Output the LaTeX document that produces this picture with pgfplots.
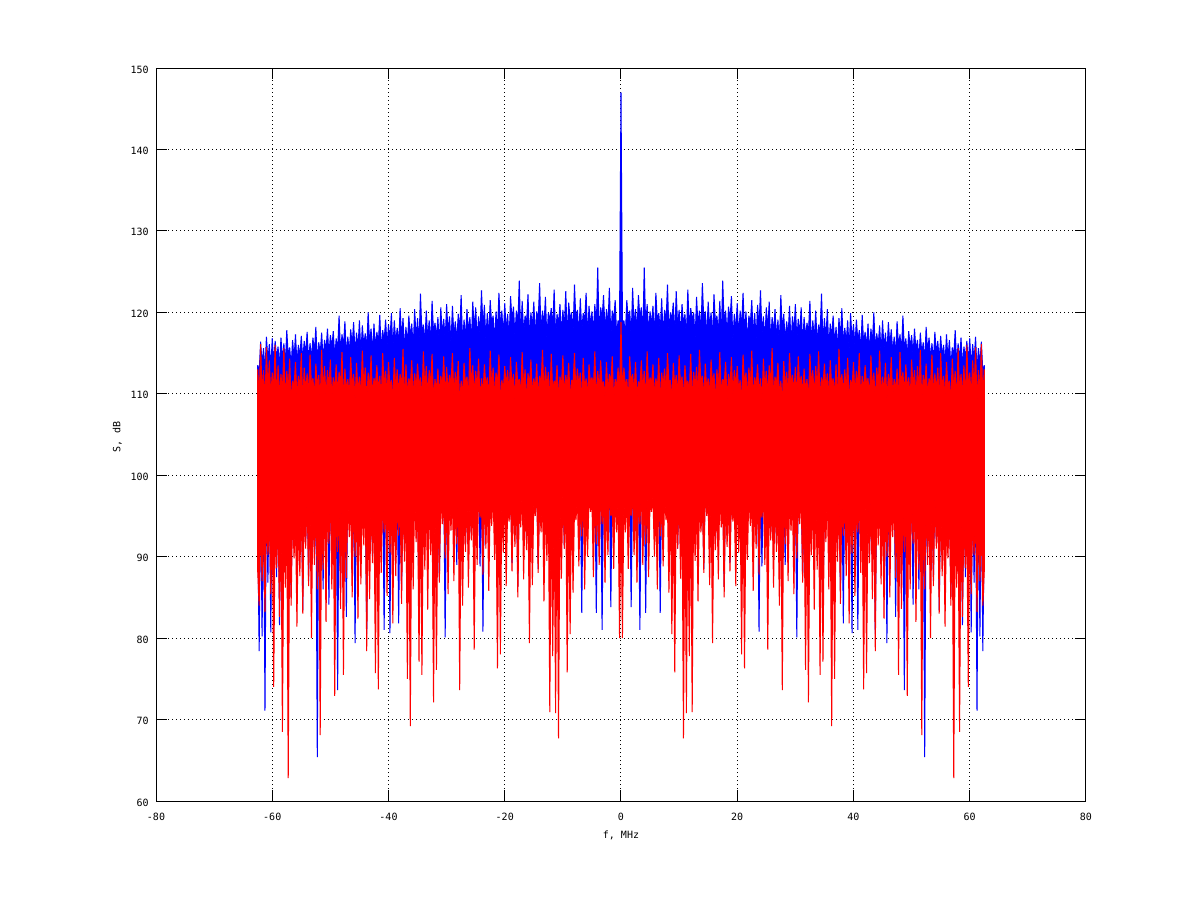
\documentclass[border=0pt]{standalone}
\usepackage{pgfplots}
\usepackage{pgfplotstable}
\pgfplotsset{compat=1.18}
\usepgfplotslibrary{fillbetween}
\usepackage{fontspec}
\setmonofont{DejaVu Sans Mono}
\pgfplotstableread[row sep=\\]{
x up lo\\
-62.5 113.5 93.7\\ -62.25 112.6 78.4\\ -62 116.4 100\\ -61.75 113.6 80.2\\ -61.5 115.6 100\\ -61.25 112.8 71.1\\ -61 117.0 100\\ -60.75 114.0 86.8\\ -60.5 116.1 100\\ -60.25 113.1 80.7\\
-60 116.8 100\\ -59.75 113.7 92.2\\ -59.5 116.5 100\\ -59.25 114.3 87.5\\ -59 115.8 100\\ -58.75 113.2 81.6\\ -58.5 116.9 100\\ -58.25 114.0 90.6\\ -58 116.2 100\\ -57.75 113.5 88.0\\ -57.5 117.8 100\\ -57.25 114.6 100\\ -57 115.7 100\\ -56.75 113.3 85.1\\ -56.5 116.6 100\\ -56.25 114.2 92.4\\ -56 117.3 100\\ -55.75 113.6 89.0\\ -55.5 116.0 100\\ -55.25 114.5 100\\
-55 117.1 100\\ -54.75 114.0 83.4\\ -54.5 116.5 100\\ -54.25 114.8 91.8\\ -54 117.6 100\\ -53.75 113.9 87.0\\ -53.5 116.2 100\\ -53.25 114.3 100\\ -53 116.9 100\\ -52.75 115.0 90.6\\ -52.5 118.2 100\\ -52.25 113.8 65.4\\ -52 116.3 100\\ -51.75 114.9 100\\ -51.5 117.5 100\\ -51.25 114.1 86.0\\ -51 116.6 100\\ -50.75 115.2 92.0\\ -50.5 118.0 100\\ -50.25 114.6 84.1\\
-50 117.2 100\\ -49.75 115.6 90.4\\ -49.5 117.7 100\\ -49.25 114.4 100\\ -49 116.8 100\\ -48.75 115.3 73.6\\ -48.5 119.6 100\\ -48.25 114.9 86.0\\ -48 117.3 100\\ -47.75 115.7 91.2\\ -47.5 118.9 100\\ -47.25 114.5 82.6\\ -47 117.0 100\\ -46.75 115.0 100\\ -46.5 117.9 100\\ -46.25 115.9 88.0\\ -46 118.8 100\\ -45.75 114.7 79.4\\ -45.5 117.5 100\\ -45.25 115.5 100\\
-45 119.0 100\\ -44.75 114.8 89.6\\ -44.5 118.4 100\\ -44.25 115.9 100\\ -44 117.4 100\\ -43.75 115.3 80.5\\ -43.5 120.0 100\\ -43.25 116.2 92.8\\ -43 118.0 100\\ -42.75 114.9 90.0\\ -42.5 118.6 100\\ -42.25 115.6 100\\ -42 117.6 100\\ -41.75 116.1 100\\ -41.5 119.7 100\\ -41.25 115.2 91.4\\ -41 117.8 100\\ -40.75 116.4 81.0\\ -40.5 119.1 100\\ -40.25 115.8 100\\
-40 118.5 100\\ -39.75 116.5 80.6\\ -39.5 119.9 100\\ -39.25 115.3 92.0\\ -39 119.0 100\\ -38.75 116.3 100\\ -38.5 118.1 100\\ -38.25 115.9 81.8\\ -38 120.5 100\\ -37.75 116.8 85.9\\ -37.5 119.3 100\\ -37.25 115.4 91.0\\ -37 118.2 100\\ -36.75 116.0 100\\ -36.5 119.6 100\\ -36.25 116.9 100\\ -36 118.6 100\\ -35.75 115.5 92.6\\ -35.5 120.4 100\\ -35.25 116.6 100\\
-35 119.3 100\\ -34.75 116.0 82.8\\ -34.5 122.3 100\\ -34.25 117.3 100\\ -34 118.5 100\\ -33.75 116.1 100\\ -33.5 120.2 100\\ -33.25 116.7 90.5\\ -33 119.0 100\\ -32.75 115.9 91.8\\ -32.5 121.4 100\\ -32.25 117.5 100\\ -32 118.7 100\\ -31.75 116.9 100\\ -31.5 119.4 100\\ -31.25 115.8 87.0\\ -31 120.6 100\\ -30.75 117.2 100\\ -30.5 119.2 100\\ -30.25 116.5 80.1\\
-30 121.0 100\\ -29.75 117.4 92.4\\ -29.5 119.5 100\\ -29.25 116.0 100\\ -29 120.8 100\\ -28.75 117.1 100\\ -28.5 118.9 100\\ -28.25 116.3 89.0\\ -28 119.8 100\\ -27.75 117.6 100\\ -27.5 122.1 100\\ -27.25 115.9 100\\ -27 119.1 100\\ -26.75 116.8 91.5\\ -26.5 120.4 100\\ -26.25 117.5 100\\ -26 119.4 100\\ -25.75 116.2 92.8\\ -25.5 121.3 100\\ -25.25 117.8 100\\
-25 120.6 100\\ -24.75 116.5 100\\ -24.5 119.5 100\\ -24.25 117.2 88.8\\ -24 122.7 100\\ -23.75 118.1 80.8\\ -23.5 120.9 100\\ -23.25 116.6 100\\ -23 119.9 100\\ -22.75 117.0 92.2\\ -22.5 121.5 100\\ -22.25 118.5 100\\ -22 119.6 100\\ -21.75 116.3 100\\ -21.5 120.1 100\\ -21.25 117.4 90.0\\ -21 122.4 100\\ -20.75 118.2 100\\ -20.5 120.2 100\\ -20.25 116.9 93.0\\
-20 121.1 100\\ -19.75 117.7 100\\ -19.5 119.8 100\\ -19.25 116.4 100\\ -19 122.0 100\\ -18.75 118.9 89.2\\ -18.5 120.7 100\\ -18.25 117.0 100\\ -18 120.2 100\\ -17.75 118.4 86.3\\ -17.5 123.9 100\\ -17.25 116.8 100\\ -17 121.4 100\\ -16.75 117.3 100\\ -16.5 119.6 100\\ -16.25 118.6 92.0\\ -16 122.2 100\\ -15.75 116.6 100\\ -15.5 120.0 100\\ -15.25 118.0 100\\
-15 121.3 100\\ -14.75 116.9 100\\ -14.5 120.1 100\\ -14.25 118.8 88.5\\ -14 123.6 100\\ -13.75 117.2 100\\ -13.5 120.2 100\\ -13.25 118.3 100\\ -13 121.9 100\\ -12.75 116.5 93.5\\ -12.5 120.0 100\\ -12.25 119.0 100\\ -12 120.5 100\\ -11.75 117.9 100\\ -11.5 122.8 100\\ -11.25 116.8 83.7\\ -11 119.8 100\\ -10.75 118.5 100\\ -10.5 121.0 100\\ -10.25 117.1 100\\
-10 120.3 100\\ -9.75 118.1 91.0\\ -9.5 122.6 100\\ -9.25 116.6 100\\ -9 121.2 100\\ -8.75 119.1 100\\ -8.5 120.0 100\\ -8.25 117.3 92.5\\ -8 123.4 100\\ -7.75 118.7 100\\ -7.5 120.3 100\\ -7.25 116.9 100\\ -7 121.7 100\\ -6.75 117.6 83.1\\ -6.5 119.9 100\\ -6.25 118.9 100\\ -6 122.4 100\\ -5.75 116.7 93.0\\ -5.5 120.8 100\\ -5.25 118.4 100\\
-5 120.1 100\\ -4.75 117.4 100\\ -4.5 121.0 100\\ -4.25 118.0 83.1\\ -4 125.5 100\\ -3.75 116.9 100\\ -3.5 120.6 100\\ -3.25 119.3 81.0\\ -3 122.1 100\\ -2.75 117.5 92.0\\ -2.5 120.4 100\\ -2.25 118.2 100\\ -2 123.0 100\\ -1.75 116.8 83.8\\ -1.5 120.2 100\\ -1.25 119.0 100\\ -1 121.5 100\\ -0.75 117.2 100\\ -0.5 119.0 100\\ -0.25 118.6 100\\
0 147 100\\ 0.25 118.6 100\\ 0.5 119.0 100\\ 0.75 117.2 100\\ 1 121.5 100\\ 1.25 119.0 100\\ 1.5 120.2 100\\ 1.75 116.8 83.8\\ 2 123.0 100\\ 2.25 118.2 100\\ 2.5 120.4 100\\ 2.75 117.5 92.0\\ 3 122.1 100\\ 3.25 119.3 81.0\\ 3.5 120.6 100\\ 3.75 116.9 100\\ 4 125.5 100\\ 4.25 118.0 83.1\\ 4.5 121.0 100\\ 4.75 117.4 100\\ 5 120.1 100\\
5.25 118.4 100\\ 5.5 120.8 100\\ 5.75 116.7 93.0\\ 6 122.4 100\\ 6.25 118.9 100\\ 6.5 119.9 100\\ 6.75 117.6 83.1\\ 7 121.7 100\\ 7.25 116.9 100\\ 7.5 120.3 100\\ 7.75 118.7 100\\ 8 123.4 100\\ 8.25 117.3 92.5\\ 8.5 120.0 100\\ 8.75 119.1 100\\ 9 121.2 100\\ 9.25 116.6 100\\ 9.5 122.6 100\\ 9.75 118.1 91.0\\ 10 120.3 100\\
10.25 117.1 100\\ 10.5 121.0 100\\ 10.75 118.5 100\\ 11 119.8 100\\ 11.25 116.8 83.7\\ 11.5 122.8 100\\ 11.75 117.9 100\\ 12 120.5 100\\ 12.25 119.0 100\\ 12.5 120.0 100\\ 12.75 116.5 93.5\\ 13 121.9 100\\ 13.25 118.3 100\\ 13.5 120.2 100\\ 13.75 117.2 100\\ 14 123.6 100\\ 14.25 118.8 88.5\\ 14.5 120.1 100\\ 14.75 116.9 100\\ 15 121.3 100\\
15.25 118.0 100\\ 15.5 120.0 100\\ 15.75 116.6 100\\ 16 122.2 100\\ 16.25 118.6 92.0\\ 16.5 119.6 100\\ 16.75 117.3 100\\ 17 121.4 100\\ 17.25 116.8 100\\ 17.5 123.9 100\\ 17.75 118.4 86.3\\ 18 120.2 100\\ 18.25 117.0 100\\ 18.5 120.7 100\\ 18.75 118.9 89.2\\ 19 122.0 100\\ 19.25 116.4 100\\ 19.5 119.8 100\\ 19.75 117.7 100\\ 20 121.1 100\\
20.25 116.9 93.0\\ 20.5 120.2 100\\ 20.75 118.2 100\\ 21 122.4 100\\ 21.25 117.4 90.0\\ 21.5 120.1 100\\ 21.75 116.3 100\\ 22 119.6 100\\ 22.25 118.5 100\\ 22.5 121.5 100\\ 22.75 117.0 92.2\\ 23 119.9 100\\ 23.25 116.6 100\\ 23.5 120.9 100\\ 23.75 118.1 80.8\\ 24 122.7 100\\ 24.25 117.2 88.8\\ 24.5 119.5 100\\ 24.75 116.5 100\\ 25 120.6 100\\
25.25 117.8 100\\ 25.5 121.3 100\\ 25.75 116.2 92.8\\ 26 119.4 100\\ 26.25 117.5 100\\ 26.5 120.4 100\\ 26.75 116.8 91.5\\ 27 119.1 100\\ 27.25 115.9 100\\ 27.5 122.1 100\\ 27.75 117.6 100\\ 28 119.8 100\\ 28.25 116.3 89.0\\ 28.5 118.9 100\\ 28.75 117.1 100\\ 29 120.8 100\\ 29.25 116.0 100\\ 29.5 119.5 100\\ 29.75 117.4 92.4\\ 30 121.0 100\\
30.25 116.5 80.1\\ 30.5 119.2 100\\ 30.75 117.2 100\\ 31 120.6 100\\ 31.25 115.8 87.0\\ 31.5 119.4 100\\ 31.75 116.9 100\\ 32 118.7 100\\ 32.25 117.5 100\\ 32.5 121.4 100\\ 32.75 115.9 91.8\\ 33 119.0 100\\ 33.25 116.7 90.5\\ 33.5 120.2 100\\ 33.75 116.1 100\\ 34 118.5 100\\ 34.25 117.3 100\\ 34.5 122.3 100\\ 34.75 116.0 82.8\\ 35 119.3 100\\
35.25 116.6 100\\ 35.5 120.4 100\\ 35.75 115.5 92.6\\ 36 118.6 100\\ 36.25 116.9 100\\ 36.5 119.6 100\\ 36.75 116.0 100\\ 37 118.2 100\\ 37.25 115.4 91.0\\ 37.5 119.3 100\\ 37.75 116.8 85.9\\ 38 120.5 100\\ 38.25 115.9 81.8\\ 38.5 118.1 100\\ 38.75 116.3 100\\ 39 119.0 100\\ 39.25 115.3 92.0\\ 39.5 119.9 100\\ 39.75 116.5 80.6\\ 40 118.5 100\\
40.25 115.8 100\\ 40.5 119.1 100\\ 40.75 116.4 81.0\\ 41 117.8 100\\ 41.25 115.2 91.4\\ 41.5 119.7 100\\ 41.75 116.1 100\\ 42 117.6 100\\ 42.25 115.6 100\\ 42.5 118.6 100\\ 42.75 114.9 90.0\\ 43 118.0 100\\ 43.25 116.2 92.8\\ 43.5 120.0 100\\ 43.75 115.3 80.5\\ 44 117.4 100\\ 44.25 115.9 100\\ 44.5 118.4 100\\ 44.75 114.8 89.6\\ 45 119.0 100\\
45.25 115.5 100\\ 45.5 117.5 100\\ 45.75 114.7 79.4\\ 46 118.8 100\\ 46.25 115.9 88.0\\ 46.5 117.9 100\\ 46.75 115.0 100\\ 47 117.0 100\\ 47.25 114.5 82.6\\ 47.5 118.9 100\\ 47.75 115.7 91.2\\ 48 117.3 100\\ 48.25 114.9 86.0\\ 48.5 119.6 100\\ 48.75 115.3 73.6\\ 49 116.8 100\\ 49.25 114.4 100\\ 49.5 117.7 100\\ 49.75 115.6 90.4\\ 50 117.2 100\\
50.25 114.6 84.1\\ 50.5 118.0 100\\ 50.75 115.2 92.0\\ 51 116.6 100\\ 51.25 114.1 86.0\\ 51.5 117.5 100\\ 51.75 114.9 100\\ 52 116.3 100\\ 52.25 113.8 65.4\\ 52.5 118.2 100\\ 52.75 115.0 90.6\\ 53 116.9 100\\ 53.25 114.3 100\\ 53.5 116.2 100\\ 53.75 113.9 87.0\\ 54 117.6 100\\ 54.25 114.8 91.8\\ 54.5 116.5 100\\ 54.75 114.0 83.4\\ 55 117.1 100\\
55.25 114.5 100\\ 55.5 116.0 100\\ 55.75 113.6 89.0\\ 56 117.3 100\\ 56.25 114.2 92.4\\ 56.5 116.6 100\\ 56.75 113.3 85.1\\ 57 115.7 100\\ 57.25 114.6 100\\ 57.5 117.8 100\\ 57.75 113.5 88.0\\ 58 116.2 100\\ 58.25 114.0 90.6\\ 58.5 116.9 100\\ 58.75 113.2 81.6\\ 59 115.8 100\\ 59.25 114.3 87.5\\ 59.5 116.5 100\\ 59.75 113.7 92.2\\ 60 116.8 100\\
60.25 113.1 80.7\\ 60.5 116.1 100\\ 60.75 114.0 86.8\\ 61 117.0 100\\ 61.25 112.8 71.1\\ 61.5 115.6 100\\ 61.75 113.6 80.2\\ 62 116.4 100\\ 62.25 112.6 78.4\\ 62.5 113.5 93.7\\
}\bluedata
\pgfplotstableread[row sep=\\]{
x up lo\\
-62.5 113.0 88.2\\ -62.25 109.3 84.0\\ -62 116.1 94.8\\ -61.75 109.9 87.0\\ -61.5 112.9 94.0\\ -61.25 108.7 83.2\\ -61 115.7 95.3\\ -60.75 110.2 90.2\\ -60.5 114.1 94.4\\ -60.25 109.5 85.4\\
-60 112.6 95.0\\ -59.75 110.4 74.0\\ -59.5 116.0 94.2\\ -59.25 108.8 88.6\\ -59 113.5 94.5\\ -58.75 109.7 82.6\\ -58.5 112.4 95.6\\ -58.25 110.1 68.5\\ -58 115.6 94.8\\ -57.75 108.6 86.2\\ -57.5 112.8 95.4\\ -57.25 110.3 62.8\\ -57 114.3 94.3\\ -56.75 109.0 84.0\\ -56.5 111.6 95.8\\ -56.25 110.8 89.8\\ -56 113.9 94.6\\ -55.75 109.4 81.4\\ -55.5 112.2 95.2\\ -55.25 110.5 87.6\\
-55 115.0 97.4\\ -54.75 108.9 83.0\\ -54.5 113.2 96.0\\ -54.25 110.2 91.0\\ -54 112.5 97.8\\ -53.75 109.7 86.4\\ -53.5 114.8 96.3\\ -53.25 111.0 80.0\\ -53 111.9 97.2\\ -52.75 109.5 89.0\\ -52.5 113.7 96.8\\ -52.25 110.7 86.0\\ -52 112.3 97.6\\ -51.75 108.8 68.1\\ -51.5 115.4 96.1\\ -51.25 110.0 88.4\\ -51 113.4 97.0\\ -50.75 109.3 82.0\\ -50.5 112.9 96.5\\ -50.25 110.6 91.6\\
-50 114.2 97.9\\ -49.75 109.2 86.0\\ -49.5 112.0 96.6\\ -49.25 110.4 72.9\\ -49 113.6 97.3\\ -48.75 109.8 90.6\\ -48.5 112.7 96.0\\ -48.25 110.9 83.6\\ -48 115.1 97.7\\ -47.75 108.7 75.5\\ -47.5 113.1 96.4\\ -47.25 110.3 87.4\\ -47 111.8 97.1\\ -46.75 109.4 92.4\\ -46.5 114.5 96.9\\ -46.25 110.8 85.0\\ -46 112.4 97.5\\ -45.75 109.0 90.0\\ -45.5 113.8 96.2\\ -45.25 110.1 82.4\\
-45 112.1 97.1\\ -44.75 109.6 86.6\\ -44.5 115.3 96.8\\ -44.25 110.7 91.4\\ -44 113.2 98.0\\ -43.75 108.9 78.4\\ -43.5 112.6 96.3\\ -43.25 110.5 84.8\\ -43 114.7 97.4\\ -42.75 109.3 89.2\\ -42.5 111.9 96.7\\ -42.25 111.0 75.7\\ -42 113.5 97.8\\ -41.75 110.2 73.7\\ -41.5 112.2 96.0\\ -41.25 109.1 88.0\\ -41 115.0 97.2\\ -40.75 110.8 93.0\\ -40.5 112.8 96.6\\ -40.25 109.5 85.2\\
-40 113.9 97.4\\ -39.75 110.7 90.4\\ -39.5 111.7 96.1\\ -39.25 109.0 81.8\\ -39 114.4 98.1\\ -38.75 110.3 87.6\\ -38.5 113.0 97.3\\ -38.25 109.9 92.6\\ -38 112.4 96.9\\ -37.75 110.6 84.2\\ -37.5 115.5 97.6\\ -37.25 108.6 89.4\\ -37 113.6 96.2\\ -36.75 109.7 75.0\\ -36.5 111.9 97.0\\ -36.25 110.9 69.2\\ -36 114.1 96.5\\ -35.75 109.2 86.0\\ -35.5 112.5 97.9\\ -35.25 110.4 91.8\\
-35 113.7 96.4\\ -34.75 110.8 77.1\\ -34.5 112.0 97.2\\ -34.25 109.1 75.5\\ -34 115.2 96.6\\ -33.75 110.2 88.4\\ -33.5 113.4 98.0\\ -33.25 109.5 83.5\\ -33 112.9 97.5\\ -32.75 111.0 90.2\\ -32.5 114.9 96.0\\ -32.25 108.8 72.1\\ -32 111.8 97.1\\ -31.75 110.3 76.1\\ -31.5 113.1 96.8\\ -31.25 109.8 86.8\\ -31 112.2 97.7\\ -30.75 110.7 94.0\\ -30.5 114.6 96.3\\ -30.25 109.0 89.8\\
-30 113.3 97.6\\ -29.75 110.1 85.4\\ -29.5 112.3 96.9\\ -29.25 111.0 93.2\\ -29 115.0 97.3\\ -28.75 109.4 87.0\\ -28.5 112.7 96.5\\ -28.25 110.5 91.5\\ -28 114.0 98.2\\ -27.75 108.7 73.6\\ -27.5 111.6 97.0\\ -27.25 109.9 84.0\\ -27 113.8 96.1\\ -26.75 111.0 90.6\\ -26.5 112.1 97.8\\ -26.25 109.2 86.2\\ -26 115.6 96.4\\ -25.75 110.8 92.0\\ -25.5 113.5 97.2\\ -25.25 109.6 78.6\\
-25 112.8 96.8\\ -24.75 110.5 89.0\\ -24.5 114.3 97.5\\ -24.25 108.9 94.8\\ -24 111.9 96.3\\ -23.75 109.8 87.8\\ -23.5 113.6 98.0\\ -23.25 110.9 91.0\\ -23 112.0 97.1\\ -22.75 109.1 85.8\\ -22.5 115.3 96.6\\ -22.25 110.6 93.8\\ -22 113.2 97.9\\ -21.75 109.5 89.6\\ -21.5 112.6 96.0\\ -21.25 111.0 76.3\\ -21 114.8 97.4\\ -20.75 108.8 78.0\\ -20.5 111.7 96.7\\ -20.25 110.3 90.5\\
-20 113.4 97.8\\ -19.75 110.9 86.4\\ -19.5 112.9 96.1\\ -19.25 109.6 94.3\\ -19 114.5 97.3\\ -18.75 110.7 88.2\\ -18.5 112.4 96.9\\ -18.25 109.0 91.2\\ -18 113.9 97.6\\ -17.75 111.1 85.0\\ -17.5 111.8 96.2\\ -17.25 109.8 93.6\\ -17 115.1 98.1\\ -16.75 110.5 87.2\\ -16.5 113.0 97.0\\ -16.25 108.9 90.8\\ -16 112.5 96.4\\ -15.75 111.0 79.4\\ -15.5 114.2 97.5\\ -15.25 109.7 86.5\\
-15 111.9 96.6\\ -14.75 110.4 95.0\\ -14.5 113.7 97.9\\ -14.25 109.2 88.0\\ -14 112.2 96.3\\ -13.75 111.1 93.0\\ -13.5 115.4 97.2\\ -13.25 109.7 84.5\\ -13 113.3 96.8\\ -12.75 110.6 89.5\\ -12.5 112.7 98.0\\ -12.25 108.8 70.9\\ -12 114.9 97.4\\ -11.75 110.2 77.8\\ -11.5 111.6 96.1\\ -11.25 111.0 70.8\\ -11 113.5 97.7\\ -10.75 109.3 67.7\\ -10.5 112.1 96.5\\ -10.25 110.8 87.3\\
-10 114.7 98.2\\ -9.75 109.5 91.0\\ -9.5 112.3 97.1\\ -9.25 110.6 75.8\\ -9 113.8 96.6\\ -8.75 109.1 80.5\\ -8.5 111.7 97.8\\ -8.25 111.2 85.6\\ -8 115.0 96.0\\ -7.75 109.9 94.5\\ -7.5 113.1 97.3\\ -7.25 110.9 88.8\\ -7 112.6 96.7\\ -6.75 108.7 92.5\\ -6.5 114.4 98.0\\ -6.25 110.4 86.0\\ -6 111.9 96.3\\ -5.75 109.6 90.0\\ -5.5 113.6 97.4\\ -5.25 111.1 95.5\\
-5 112.0 96.9\\ -4.75 110.7 87.5\\ -4.5 115.2 97.6\\ -4.25 108.8 91.5\\ -4 112.8 96.4\\ -3.75 110.3 89.0\\ -3.5 114.1 98.1\\ -3.25 111.0 94.0\\ -3 111.5 97.2\\ -2.75 109.4 86.8\\ -2.5 113.9 96.5\\ -2.25 110.1 90.2\\ -2 112.4 97.9\\ -1.75 111.2 95.0\\ -1.5 114.6 96.2\\ -1.25 108.9 88.5\\ -1 111.8 97.5\\ -0.75 110.9 93.0\\ -0.5 113.2 96.8\\ -0.25 109.8 80.0\\
0 118.8 96.5\\ 0.25 109.8 80.0\\ 0.5 113.2 96.8\\ 0.75 110.9 93.0\\ 1 111.8 97.5\\ 1.25 108.9 88.5\\ 1.5 114.6 96.2\\ 1.75 111.2 95.0\\ 2 112.4 97.9\\ 2.25 110.1 90.2\\ 2.5 113.9 96.5\\ 2.75 109.4 86.8\\ 3 111.5 97.2\\ 3.25 111.0 94.0\\ 3.5 114.1 98.1\\ 3.75 110.3 89.0\\ 4 112.8 96.4\\ 4.25 108.8 91.5\\ 4.5 115.2 97.6\\ 4.75 110.7 87.5\\ 5 112.0 96.9\\
5.25 111.1 95.5\\ 5.5 113.6 97.4\\ 5.75 109.6 90.0\\ 6 111.9 96.3\\ 6.25 110.4 86.0\\ 6.5 114.4 98.0\\ 6.75 108.7 92.5\\ 7 112.6 96.7\\ 7.25 110.9 88.8\\ 7.5 113.1 97.3\\ 7.75 109.9 94.5\\ 8 115.0 96.0\\ 8.25 111.2 85.6\\ 8.5 111.7 97.8\\ 8.75 109.1 80.5\\ 9 113.8 96.6\\ 9.25 110.6 75.8\\ 9.5 112.3 97.1\\ 9.75 109.5 91.0\\ 10 114.7 98.2\\
10.25 110.8 87.3\\ 10.5 112.1 96.5\\ 10.75 109.3 67.7\\ 11 113.5 97.7\\ 11.25 111.0 70.8\\ 11.5 111.6 96.1\\ 11.75 110.2 77.8\\ 12 114.9 97.4\\ 12.25 108.8 70.9\\ 12.5 112.7 98.0\\ 12.75 110.6 89.5\\ 13 113.3 96.8\\ 13.25 109.7 84.5\\ 13.5 115.4 97.2\\ 13.75 111.1 93.0\\ 14 112.2 96.3\\ 14.25 109.2 88.0\\ 14.5 113.7 97.9\\ 14.75 110.4 95.0\\ 15 111.9 96.6\\
15.25 109.7 86.5\\ 15.5 114.2 97.5\\ 15.75 111.0 79.4\\ 16 112.5 96.4\\ 16.25 108.9 90.8\\ 16.5 113.0 97.0\\ 16.75 110.5 87.2\\ 17 115.1 98.1\\ 17.25 109.8 93.6\\ 17.5 111.8 96.2\\ 17.75 111.1 85.0\\ 18 113.9 97.6\\ 18.25 109.0 91.2\\ 18.5 112.4 96.9\\ 18.75 110.7 88.2\\ 19 114.5 97.3\\ 19.25 109.6 94.3\\ 19.5 112.9 96.1\\ 19.75 110.9 86.4\\ 20 113.4 97.8\\
20.25 110.3 90.5\\ 20.5 111.7 96.7\\ 20.75 108.8 78.0\\ 21 114.8 97.4\\ 21.25 111.0 76.3\\ 21.5 112.6 96.0\\ 21.75 109.5 89.6\\ 22 113.2 97.9\\ 22.25 110.6 93.8\\ 22.5 115.3 96.6\\ 22.75 109.1 85.8\\ 23 112.0 97.1\\ 23.25 110.9 91.0\\ 23.5 113.6 98.0\\ 23.75 109.8 87.8\\ 24 111.9 96.3\\ 24.25 108.9 94.8\\ 24.5 114.3 97.5\\ 24.75 110.5 89.0\\ 25 112.8 96.8\\
25.25 109.6 78.6\\ 25.5 113.5 97.2\\ 25.75 110.8 92.0\\ 26 115.6 96.4\\ 26.25 109.2 86.2\\ 26.5 112.1 97.8\\ 26.75 111.0 90.6\\ 27 113.8 96.1\\ 27.25 109.9 84.0\\ 27.5 111.6 97.0\\ 27.75 108.7 73.6\\ 28 114.0 98.2\\ 28.25 110.5 91.5\\ 28.5 112.7 96.5\\ 28.75 109.4 87.0\\ 29 115.0 97.3\\ 29.25 111.0 93.2\\ 29.5 112.3 96.9\\ 29.75 110.1 85.4\\ 30 113.3 97.6\\
30.25 109.0 89.8\\ 30.5 114.6 96.3\\ 30.75 110.7 94.0\\ 31 112.2 97.7\\ 31.25 109.8 86.8\\ 31.5 113.1 96.8\\ 31.75 110.3 76.1\\ 32 111.8 97.1\\ 32.25 108.8 72.1\\ 32.5 114.9 96.0\\ 32.75 111.0 90.2\\ 33 112.9 97.5\\ 33.25 109.5 83.5\\ 33.5 113.4 98.0\\ 33.75 110.2 88.4\\ 34 115.2 96.6\\ 34.25 109.1 75.5\\ 34.5 112.0 97.2\\ 34.75 110.8 77.1\\ 35 113.7 96.4\\
35.25 110.4 91.8\\ 35.5 112.5 97.9\\ 35.75 109.2 86.0\\ 36 114.1 96.5\\ 36.25 110.9 69.2\\ 36.5 111.9 97.0\\ 36.75 109.7 75.0\\ 37 113.6 96.2\\ 37.25 108.6 89.4\\ 37.5 115.5 97.6\\ 37.75 110.6 84.2\\ 38 112.4 96.9\\ 38.25 109.9 92.6\\ 38.5 113.0 97.3\\ 38.75 110.3 87.6\\ 39 114.4 98.1\\ 39.25 109.0 81.8\\ 39.5 111.7 96.1\\ 39.75 110.7 90.4\\ 40 113.9 97.4\\
40.25 109.5 85.2\\ 40.5 112.8 96.6\\ 40.75 110.8 93.0\\ 41 115.0 97.2\\ 41.25 109.1 88.0\\ 41.5 112.2 96.0\\ 41.75 110.2 73.7\\ 42 113.5 97.8\\ 42.25 111.0 75.7\\ 42.5 111.9 96.7\\ 42.75 109.3 89.2\\ 43 114.7 97.4\\ 43.25 110.5 84.8\\ 43.5 112.6 96.3\\ 43.75 108.9 78.4\\ 44 113.2 98.0\\ 44.25 110.7 91.4\\ 44.5 115.3 96.8\\ 44.75 109.6 86.6\\ 45 112.1 97.1\\
45.25 110.1 82.4\\ 45.5 113.8 96.2\\ 45.75 109.0 90.0\\ 46 112.4 97.5\\ 46.25 110.8 85.0\\ 46.5 114.5 96.9\\ 46.75 109.4 92.4\\ 47 111.8 97.1\\ 47.25 110.3 87.4\\ 47.5 113.1 96.4\\ 47.75 108.7 75.5\\ 48 115.1 97.7\\ 48.25 110.9 83.6\\ 48.5 112.7 96.0\\ 48.75 109.8 90.6\\ 49 113.6 97.3\\ 49.25 110.4 72.9\\ 49.5 112.0 96.6\\ 49.75 109.2 86.0\\ 50 114.2 97.9\\
50.25 110.6 91.6\\ 50.5 112.9 96.5\\ 50.75 109.3 82.0\\ 51 113.4 97.0\\ 51.25 110.0 88.4\\ 51.5 115.4 96.1\\ 51.75 108.8 68.1\\ 52 112.3 97.6\\ 52.25 110.7 86.0\\ 52.5 113.7 96.8\\ 52.75 109.5 89.0\\ 53 111.9 97.2\\ 53.25 111.0 80.0\\ 53.5 114.8 96.3\\ 53.75 109.7 86.4\\ 54 112.5 97.8\\ 54.25 110.2 91.0\\ 54.5 113.2 96.0\\ 54.75 108.9 83.0\\ 55 115.0 97.4\\
55.25 110.5 87.6\\ 55.5 112.2 95.2\\ 55.75 109.4 81.4\\ 56 113.9 94.6\\ 56.25 110.8 89.8\\ 56.5 111.6 95.8\\ 56.75 109.0 84.0\\ 57 114.3 94.3\\ 57.25 110.3 62.8\\ 57.5 112.8 95.4\\ 57.75 108.6 86.2\\ 58 115.6 94.8\\ 58.25 110.1 68.5\\ 58.5 112.4 95.6\\ 58.75 109.7 82.6\\ 59 113.5 94.5\\ 59.25 108.8 88.6\\ 59.5 116.0 94.2\\ 59.75 110.4 74.0\\ 60 112.6 95.0\\
60.25 109.5 85.4\\ 60.5 114.1 94.4\\ 60.75 110.2 90.2\\ 61 115.7 95.3\\ 61.25 108.7 83.2\\ 61.5 112.9 94.0\\ 61.75 109.9 87.0\\ 62 116.1 94.8\\ 62.25 109.3 84.0\\ 62.5 113.0 88.2\\
}\reddata
\begin{document}
\begin{tikzpicture}
\path (0,0) rectangle (600pt,450.5pt);
\begin{axis}[
  at={(78pt,50pt)}, anchor=south west,
  scale only axis, width=465pt, height=366.5pt,
  xmin=-80, xmax=80, ymin=60, ymax=150,
  xtick={-80,-60,-40,-20,0,20,40,60,80},
  ytick={60,70,80,90,100,110,120,130,140,150},
  tick align=inside, major tick length=5.5pt,
  tick style={black, line width=0.5pt},
  axis line style={black, line width=0.5pt},
  grid=major,
  grid style={black, line width=0.5pt, dash pattern=on 0.5pt off 1.5pt},
  /pgf/number format/assume math mode=true,
  ticklabel style={font=\ttfamily\fontsize{5}{6}\selectfont, inner sep=0pt},
  xticklabel style={anchor=base, yshift=-9.5pt},
  yticklabel style={anchor=east, xshift=-3.5pt, yshift=-0.7pt},
  label style={font=\ttfamily\fontsize{5}{6}\selectfont, inner sep=0pt},
  xlabel={f, MHz},
  ylabel={S, dB},
  xlabel style={at={(axis description cs:0.5,-0.0509)}, anchor=base},
  ylabel style={at={(axis description cs:-0.0382,0.4966)}, anchor=base},
]
\addplot[draw=none, mark=none, name path=bu] table[x=x, y=up] {\bluedata};
\addplot[draw=none, mark=none, name path=bl] table[x=x, y=lo] {\bluedata};
\addplot[fill=blue, draw=blue, line width=0.5pt, line join=bevel] fill between[of=bu and bl];
\addplot[draw=none, mark=none, name path=ru] table[x=x, y=up] {\reddata};
\addplot[draw=none, mark=none, name path=rl] table[x=x, y=lo] {\reddata};
\addplot[fill=red, draw=red, line width=0.5pt, line join=bevel] fill between[of=ru and rl];
\end{axis}
\end{tikzpicture}
\end{document}
